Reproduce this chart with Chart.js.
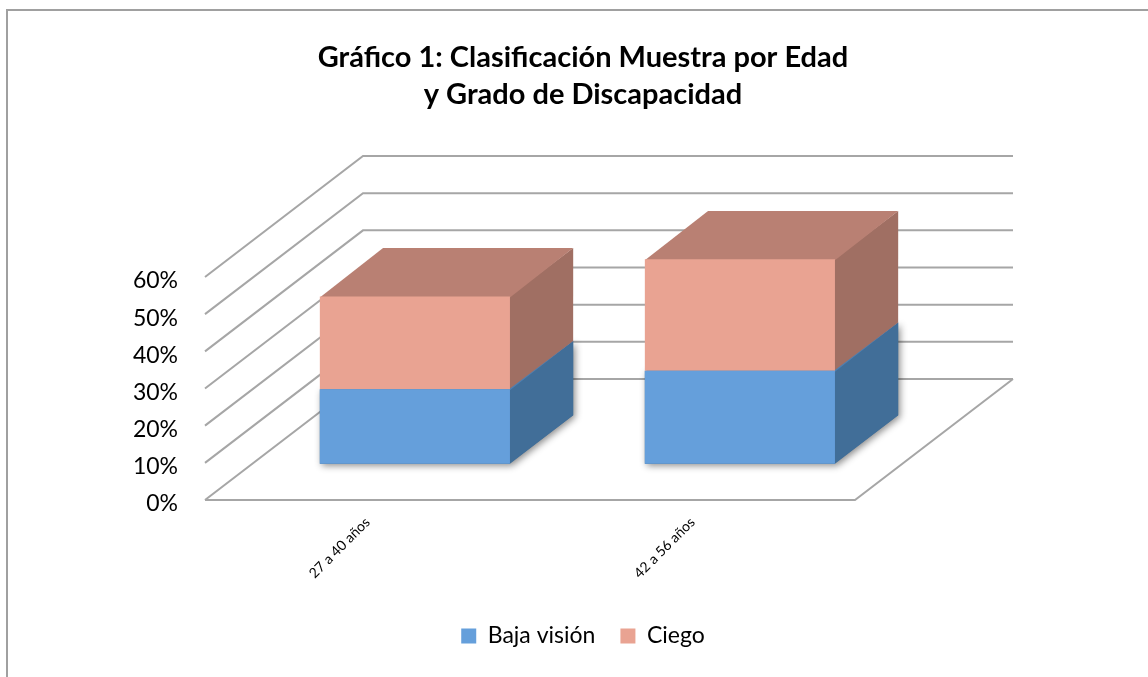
<!DOCTYPE html>
<html>
<head>
<meta charset="utf-8">
<title>Gráfico 1</title>
<script src="https://cdn.jsdelivr.net/npm/chart.js"></script>
<style>
  html, body { margin: 0; padding: 0; background: #fff; }
  #wrap { width: 1148px; height: 677px; }
</style>
</head>
<body>
<div id="wrap"><canvas id="grafico"></canvas></div>
<script>
// Datos del gráfico
var edades = ["27 a 40 años", "42 a 56 años"];
var bajaVision = [20, 25];
var ciego = [25, 30];
var ticksY = [0, 10, 20, 30, 40, 50, 60];

// profundidad 3D (px) y posición de las barras dentro de esa profundidad
var fondo = { dx: 158, dy: -121 };
var frente = 0.3, grosor = 0.4;

var efecto3d = {
    id: 'efecto3d',
    beforeDraw: function (chart) {
        var ctx = chart.ctx;
        ctx.save();
        ctx.fillStyle = '#fff';
        ctx.fillRect(0, 0, chart.width, chart.height);
        ctx.strokeStyle = '#a0a0a0';
        ctx.lineWidth = 2;
        ctx.strokeRect(7, 10, chart.width + 20, chart.height + 20);
        ctx.restore();
    },
    beforeDatasetsDraw: function (chart) {
        var ctx = chart.ctx, a = chart.chartArea, y = chart.scales.y;

        // paredes y piso
        ctx.save();
        ctx.strokeStyle = '#a6a6a6';
        ctx.lineWidth = 2;
        ctx.beginPath();
        y.ticks.forEach(function (t) {
            var py = y.getPixelForValue(t.value);
            ctx.moveTo(a.left, py);
            ctx.lineTo(a.left + fondo.dx, py + fondo.dy);
            ctx.lineTo(a.right + fondo.dx, py + fondo.dy);
        });
        ctx.moveTo(a.left, a.bottom);
        ctx.lineTo(a.right, a.bottom);
        ctx.lineTo(a.right + fondo.dx, a.bottom + fondo.dy);
        ctx.stroke();
        ctx.restore();

        // caras laterales y superiores; el frente lo pinta Chart.js
        ctx.save();
        ctx.translate(fondo.dx * frente, fondo.dy * frente);
        var gx = fondo.dx * grosor, gy = fondo.dy * grosor;
        chart.data.labels.forEach(function (l, i) {
            chart.data.datasets.forEach(function (ds, d) {
                var bar = chart.getDatasetMeta(d).data[i];
                var p = bar.getProps(['x', 'y', 'base', 'width'], true);
                var x0 = p.x - p.width / 2, x1 = p.x + p.width / 2;
                if (d === 0) {
                    // sombra suave bajo la barra
                    ctx.save();
                    ctx.shadowColor = 'rgba(0,0,0,0.45)';
                    ctx.shadowBlur = 7;
                    ctx.shadowOffsetX = 2;
                    ctx.shadowOffsetY = 2;
                    ctx.fillStyle = ds.sideColor;
                    ctx.beginPath();
                    ctx.moveTo(x0, p.y);
                    ctx.lineTo(x0, p.base);
                    ctx.lineTo(x1, p.base);
                    ctx.lineTo(x1 + gx, p.base + gy);
                    ctx.lineTo(x1 + gx, p.y + gy);
                    ctx.lineTo(x1, p.y);
                    ctx.closePath();
                    ctx.fill();
                    ctx.restore();
                }
                ctx.fillStyle = ds.sideColor;
                ctx.beginPath();
                ctx.moveTo(x1 - 1, p.y);
                ctx.lineTo(x1 + gx, p.y + gy);
                ctx.lineTo(x1 + gx, p.base + gy);
                ctx.lineTo(x1 - 1, p.base);
                ctx.closePath();
                ctx.fill();
                ctx.fillStyle = ds.topColor;
                ctx.beginPath();
                ctx.moveTo(x0, p.y + 1);
                ctx.lineTo(x0 + gx, p.y + gy);
                ctx.lineTo(x1 + gx, p.y + gy);
                ctx.lineTo(x1, p.y + 1);
                ctx.closePath();
                ctx.fill();
            });
        });
    },
    afterDatasetsDraw: function (chart) {
        chart.ctx.restore();
    }
};

new Chart(document.getElementById('grafico'), {
    type: 'bar',
    data: {
        labels: edades,
        datasets: [
            { label: 'Baja visión', data: bajaVision, backgroundColor: '#659fdb', sideColor: '#416e98', topColor: '#4f7fb0' },
            { label: 'Ciego', data: ciego, backgroundColor: '#e9a392', sideColor: '#a06f63', topColor: '#b98073' }
        ]
    },
    options: {
        responsive: true,
        maintainAspectRatio: false,
        animation: false,
        datasets: { bar: { barPercentage: 0.585, categoryPercentage: 1, clip: false } },
        layout: { padding: { left: 18, right: 0, top: 0, bottom: 19.5 } },
        plugins: {
            title: {
                display: true,
                text: ['Gráfico 1: Clasificación Muestra por Edad', 'y Grado de Discapacidad'],
                color: '#000',
                font: { family: 'Lato', size: 29, weight: 'bold', lineHeight: '37px' },
                padding: { top: 39, bottom: 164 }
            },
            legend: {
                position: 'bottom',
                labels: { boxWidth: 15, boxHeight: 15, padding: 25, color: '#000', font: { family: 'Lato', size: 23 } }
            },
            tooltip: { enabled: false }
        },
        scales: {
            x: {
                stacked: true,
                grid: { display: false, drawTicks: false },
                border: { display: false },
                ticks: { minRotation: 45, maxRotation: 45, padding: 14, color: '#000', font: { family: 'Lato', size: 14 } },
                afterFit: function (s) { s.height = 99.5; }
            },
            y: {
                stacked: true,
                min: 0,
                max: 60,
                afterBuildTicks: function (s) { s.ticks = ticksY.map(function (v) { return { value: v }; }); },
                grid: { display: false, drawTicks: false },
                border: { display: false },
                ticks: { padding: 27, labelOffset: 4, color: '#000', font: { family: 'Lato', size: 23 }, callback: function (v) { return v + '%'; } },
                afterFit: function (s) { s.width = 187; }
            },
            y2: {
                type: 'linear',
                position: 'right',
                grid: { display: false, drawTicks: false },
                border: { display: false },
                ticks: { display: false },
                afterFit: function (s) { s.width = 293; }
            }
        }
    },
    plugins: [efecto3d]
});
</script>
</body>
</html>
